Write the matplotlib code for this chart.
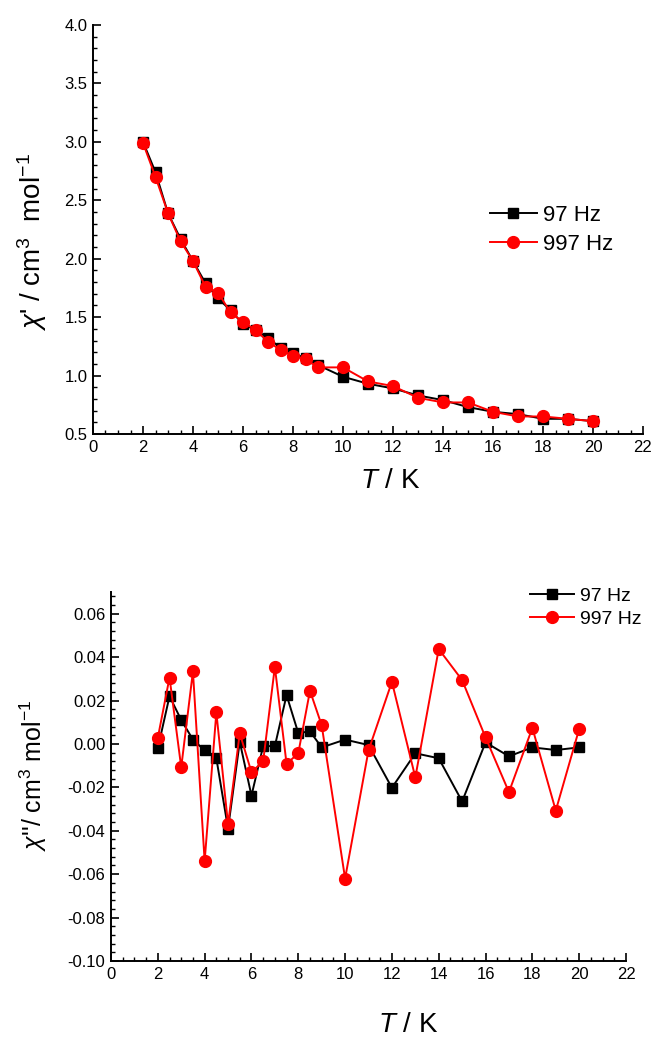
import matplotlib
matplotlib.use("Agg")
import matplotlib.pyplot as plt
from matplotlib.ticker import MultipleLocator, FormatStrFormatter

plt.rcParams['font.family'] = ['Liberation Sans', 'DejaVu Sans']
plt.rcParams['mathtext.fontset'] = 'custom'
plt.rcParams['mathtext.rm'] = 'Liberation Sans'
plt.rcParams['mathtext.it'] = 'Liberation Sans:italic'
plt.rcParams['axes.unicode_minus'] = False

# температури, K
T = [2, 2.5, 3, 3.5, 4, 4.5, 5, 5.5, 6, 6.5, 7, 7.5, 8, 8.5, 9,
     10, 11, 12, 13, 14, 15, 16, 17, 18, 19, 20]

# chi' (верхній графік)
chi1_97 = [3.00, 2.74, 2.39, 2.17, 1.98, 1.79, 1.66, 1.56, 1.44, 1.39, 1.32, 1.24,
           1.19, 1.15, 1.09, 0.99, 0.93, 0.89, 0.83, 0.79, 0.73, 0.69, 0.67, 0.63, 0.63, 0.61]
chi1_997 = [2.99, 2.70, 2.39, 2.15, 1.98, 1.76, 1.71, 1.54, 1.46, 1.39, 1.29, 1.22,
            1.17, 1.14, 1.07, 1.07, 0.95, 0.91, 0.81, 0.77, 0.77, 0.69, 0.65, 0.65, 0.63, 0.61]

# chi'' (нижній графік)
chi2_97 = [-0.002, 0.022, 0.011, 0.002, -0.003, -0.0066, -0.039, 0.001, -0.0238, -0.001,
           -0.001, 0.0225, 0.005, 0.0058, -0.0016, 0.002, -0.0005, -0.0202, -0.0043,
           -0.0066, -0.0265, 0.0007, -0.0057, -0.0016, -0.0028, -0.0016]
chi2_997 = [0.0028, 0.0306, -0.0108, 0.0334, -0.054, 0.0145, -0.037, 0.0049, -0.013, -0.008,
            0.0355, -0.0092, -0.0043, 0.0245, 0.0086, -0.062, -0.003, 0.0286, -0.0154,
            0.0437, 0.0294, 0.003, -0.0222, 0.0074, -0.0307, 0.0069]

labels = ["97 Hz", "997 Hz"]

W, H = 656, 1043
fig = plt.figure(figsize=(W / 100, H / 100), dpi=100)


def px_box(x0, y0, x1, y1):
    # прямокутник осей у пікселях -> частки фігури
    return [x0 / W, 1 - y1 / H, (x1 - x0) / W, (y1 - y0) / H]


def style_axes(ax):
    for s in ['top', 'right']:
        ax.spines[s].set_visible(False)
    for s in ['left', 'bottom']:
        ax.spines[s].set_linewidth(1.4)
    ax.tick_params(which='major', direction='in', length=6, width=1.2, labelsize=12, pad=4)
    ax.tick_params(which='minor', direction='in', length=3, width=1.0)
    ax.xaxis.set_major_locator(MultipleLocator(2))
    ax.xaxis.set_minor_locator(MultipleLocator(0.5))
    ax.set_xlim(0, 22)


# верхній графік
ax1 = fig.add_axes(px_box(93, 25, 643, 434))
ax1.plot(T, chi1_97, color='black', marker='s', ms=7, lw=1.4, label=labels[0], clip_on=False)
ax1.plot(T, chi1_997, color='red', marker='o', ms=8.5, lw=1.4, label=labels[1], clip_on=False)
style_axes(ax1)
ax1.set_ylim(0.5, 4.0)
ax1.yaxis.set_major_locator(MultipleLocator(0.5))
ax1.yaxis.set_minor_locator(MultipleLocator(0.1))
ax1.yaxis.set_major_formatter(FormatStrFormatter('%.1f'))
ax1.legend(loc='upper left', bbox_to_anchor=(490 / W, 1 - 205 / H), bbox_transform=fig.transFigure,
           frameon=False, fontsize=16, handlelength=2.1, handletextpad=0.3, labelspacing=0.35,
           borderpad=0, borderaxespad=0)
fig.text(32 / W, 1 - 242 / H, r"$\chi$' / cm$^3$  mol$^{-1}$", rotation=90, ha='center', va='center', fontsize=20)
fig.text(390 / W, 1 - 481 / H, r"$T$ / K", ha='center', va='center', fontsize=20)

# нижній графік
ax2 = fig.add_axes(px_box(111, 592, 626, 961))
ax2.plot(T, chi2_97, color='black', marker='s', ms=7, lw=1.4, label=labels[0], clip_on=False)
ax2.plot(T, chi2_997, color='red', marker='o', ms=8.5, lw=1.4, label=labels[1], clip_on=False)
style_axes(ax2)
ax2.set_ylim(-0.10, 0.07)
ax2.yaxis.set_major_locator(MultipleLocator(0.02))
ax2.yaxis.set_minor_locator(MultipleLocator(0.004))
ax2.yaxis.set_major_formatter(FormatStrFormatter('%.2f'))
ax2.set_yticks([-0.10, -0.08, -0.06, -0.04, -0.02, 0.0, 0.02, 0.04, 0.06])
ax2.legend(loc='upper left', bbox_to_anchor=(530 / W, 1 - 587 / H), bbox_transform=fig.transFigure,
           frameon=False, fontsize=14, handlelength=2.25, handletextpad=0.3, labelspacing=0.3,
           borderpad=0, borderaxespad=0)
fig.text(33 / W, 1 - 775 / H, r"$\chi$''/ cm$^3$ mol$^{-1}$", rotation=90, ha='center', va='center', fontsize=18)
fig.text(408 / W, 1 - 1025 / H, r"$T$ / K", ha='center', va='center', fontsize=20)

fig.savefig("out.png", dpi=100)
